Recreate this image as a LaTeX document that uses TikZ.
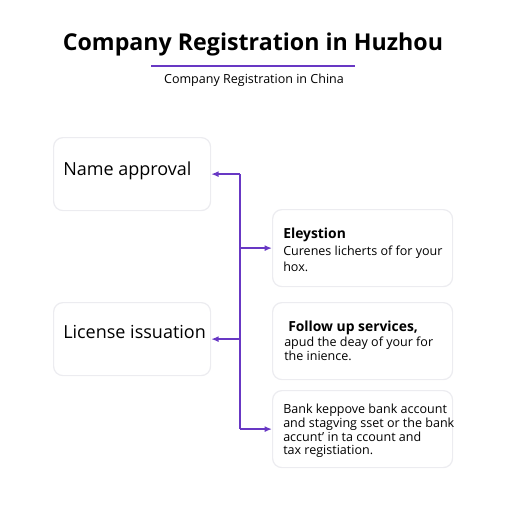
\documentclass[tikz,border=0pt]{standalone}
\usepackage{fontspec}
\setmainfont{Open Sans}
\usetikzlibrary{arrows.meta}
\definecolor{accent}{RGB}{104, 56, 196}
\definecolor{cardline}{RGB}{236, 236, 240}

\tikzset{
  card/.style={draw=cardline, line width=0.9pt, rounded corners=7pt, fill=white,
    anchor=north west, inner sep=0pt},
  leftcard/.style={card, minimum width=157*0.75pt, minimum height=73*0.75pt},
  rightcard/.style={card, minimum width=180*0.75pt, minimum height=77*0.75pt},
  cardtext/.style={anchor=west, align=left, inner sep=0pt},
  bigtext/.style={cardtext, font=\fontsize{13.5pt}{16pt}\selectfont},
  smalltext/.style={cardtext, font=\fontsize{9.4pt}{#1}\selectfont},
  link/.style={accent, line width=1.1pt, -{Latex[length=5.5pt,width=4.5pt]}}
}

\begin{document}
\begin{tikzpicture}[x=0.75pt,y=-0.75pt]
\useasboundingbox (0,0) rectangle (512,512);
% heading
\node[font=\fontsize{17.4pt}{20pt}\selectfont\bfseries] (title) at (253,44) {Company Registration in Huzhou};
\draw[accent,line width=1pt] (151,66) -- (355,66);
\node[font=\fontsize{9.4pt}{12pt}\selectfont] (subtitle) at (254,80) {Company Registration in China};

% steps on the left
\node[leftcard] (name) at (53,137) {};
\node[bigtext] (name-text) at ([shift={(10,-3)}]name.west) {Name approval};
\node[leftcard] (license) at (53,302) {};
\node[bigtext] (license-text) at ([shift={(10,-7)}]license.west) {License issuation};

% cards on the right
\node[rightcard] (election) at (272,209) {};
\node[smalltext=12.4pt] (election-text) at ([shift={(11,2)}]election.west)
  {{\bfseries\fontsize{10.4pt}{12pt}\selectfont Eleystion}\\Curenes licherts of for your\\hox.};
\node[rightcard] (followup) at (272,302) {};
\node[smalltext=10.8pt] (followup-text) at ([shift={(12,0)}]followup.west)
  {\hspace*{3pt}{\bfseries\fontsize{10.4pt}{12pt}\selectfont Follow up services,}\\apud the deay of your for\\the inience.};
\node[rightcard] (bank) at (272,390) {};
\node[smalltext=10.3pt] (bank-text) at ([shift={(11,2)}]bank.west)
  {Bank keppove bank account\\and stagving sset or the bank\\accunt' in ta ccount and\\tax registiation.};

% connectors
\coordinate (spine) at (240,0);
\draw[accent,line width=1.1pt] (spine |- name.east) -- (spine |- bank.west);
\draw[link] (spine |- name.east) -- (name.east);
\draw[link] (spine |- election.west) -- (election.west);
\draw[link] (spine |- license.east) -- (license.east);
\draw[link] (spine |- bank.west) -- (bank.west);
\end{tikzpicture}
\end{document}
